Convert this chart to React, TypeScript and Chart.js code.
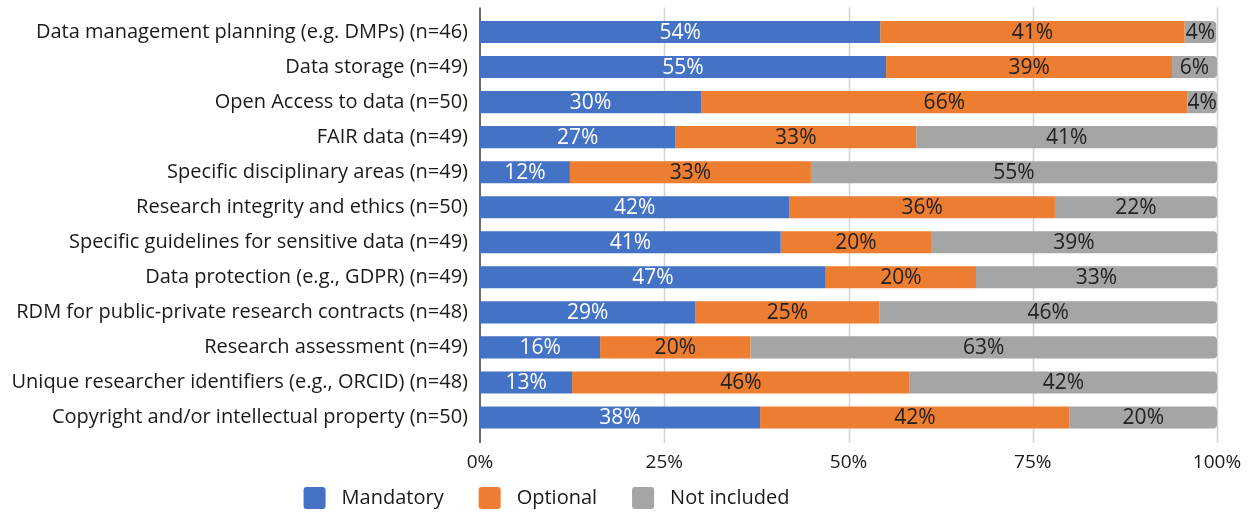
import React, { useEffect, useRef } from 'react';
import { Chart, registerables } from 'chart.js';

Chart.register(...registerables);

const categories = [
  'Data management planning (e.g. DMPs) (n=46)',
  'Data storage (n=49)',
  'Open Access to data (n=50)',
  'FAIR data (n=49)',
  'Specific disciplinary areas (n=49)',
  'Research integrity and ethics (n=50)',
  'Specific guidelines for sensitive data (n=49)',
  'Data protection (e.g., GDPR) (n=49)',
  'RDM for public-private research contracts (n=48)',
  'Research assessment (n=49)',
  'Unique researcher identifiers (e.g., ORCID) (n=48)',
  'Copyright and/or intellectual property (n=50)',
];

const mandatory = [54.3, 55.1, 30, 26.5, 12.2, 42, 40.8, 46.9, 29.2, 16.3, 12.5, 38];
const optional = [41.3, 38.8, 66, 32.7, 32.7, 36, 20.4, 20.4, 25, 20.4, 45.8, 42];
const notIncluded = [4.3, 6.1, 4, 40.8, 55.1, 22, 38.8, 32.7, 45.8, 63.3, 41.7, 20];

const seriesNames = ['Mandatory', 'Optional', 'Not included'];
const seriesColors = ['#4472C4', '#ED7D31', '#A5A5A5'];
const labelColors = ['#ffffff', '#222222', '#222222'];
const xTickValues = [0, 25, 50, 75, 100];
const xTickLabels = ['0%', '25%', '50%', '75%', '100%'];

const TEXT = '#1a1a1a';
const FONT = '"Open Sans", sans-serif';

const gridPlugin = {
  id: 'customGrid',
  beforeDatasetsDraw(chart: any) {
    const { ctx, chartArea, scales } = chart;
    const x = scales.x;
    const top = chartArea.top - 7;
    const bottom = chartArea.bottom + 8;
    ctx.save();
    ctx.strokeStyle = '#d4d4d4';
    ctx.lineWidth = 1.5;
    xTickValues.slice(1).forEach((v) => {
      const px = Math.round(x.getPixelForValue(v)) + 0.5;
      ctx.beginPath();
      ctx.moveTo(px, top);
      ctx.lineTo(px, bottom);
      ctx.stroke();
    });
    ctx.strokeStyle = '#3a3a3a';
    ctx.lineWidth = 1.5;
    const px0 = x.getPixelForValue(0);
    ctx.beginPath();
    ctx.moveTo(px0, top);
    ctx.lineTo(px0, bottom);
    ctx.stroke();
    ctx.restore();
  },
};

const xTickPlugin = {
  id: 'xTickLabels',
  afterDraw(chart: any) {
    const { ctx, chartArea, scales } = chart;
    const x = scales.x;
    ctx.save();
    ctx.font = `19px ${FONT}`;
    ctx.fillStyle = TEXT;
    ctx.textAlign = 'center';
    ctx.textBaseline = 'middle';
    xTickValues.forEach((v, i) => {
      ctx.fillText(xTickLabels[i], x.getPixelForValue(v), chartArea.bottom + 28);
    });
    ctx.restore();
  },
};

const dataLabelPlugin = {
  id: 'dataLabels',
  afterDatasetsDraw(chart: any) {
    const { ctx } = chart;
    ctx.save();
    ctx.font = `21px ${FONT}`;
    ctx.textAlign = 'center';
    ctx.textBaseline = 'middle';
    chart.data.datasets.forEach((ds: any, di: number) => {
      const meta = chart.getDatasetMeta(di);
      meta.data.forEach((el: any, i: number) => {
        const v = ds.data[i];
        const cx = (el.x + el.base) / 2;
        ctx.fillStyle = labelColors[di];
        ctx.fillText(`${Math.round(v)}%`, cx, el.y + 1);
      });
    });
    ctx.restore();
  },
};

const legendPlugin = {
  id: 'customLegend',
  afterDraw(chart: any) {
    const { ctx } = chart;
    const centerX = 546.5;
    const cy = 498;
    const boxW = 22;
    const boxH = 22;
    const gapBoxText = 16;
    const gapItems = 35;
    ctx.save();
    ctx.font = `20px ${FONT}`;
    ctx.textBaseline = 'middle';
    ctx.textAlign = 'left';
    const widths = seriesNames.map((n) => ctx.measureText(n).width);
    const total =
      widths.reduce((a, w) => a + boxW + gapBoxText + w, 0) + gapItems * (seriesNames.length - 1);
    let x = centerX - total / 2;
    seriesNames.forEach((n, i) => {
      ctx.fillStyle = seriesColors[i];
      ctx.beginPath();
      (ctx as any).roundRect(x, cy - boxH / 2, boxW, boxH, 3);
      ctx.fill();
      ctx.fillStyle = TEXT;
      ctx.fillText(n, x + boxW + gapBoxText, cy);
      x += boxW + gapBoxText + widths[i] + gapItems;
    });
    ctx.restore();
  },
};

export default function App() {
  const ref = useRef<HTMLCanvasElement>(null);

  useEffect(() => {
    if (!ref.current) return;
    const datasets = [mandatory, optional, notIncluded].map((d, i) => ({
      label: seriesNames[i],
      data: d,
      backgroundColor: seriesColors[i],
      borderWidth: 0,
      borderRadius: i === 2 ? 4 : 0,
      borderSkipped: 'start' as const,
      categoryPercentage: 0.63,
      barPercentage: 1,
    }));
    const chart = new Chart(ref.current, {
      type: 'bar',
      data: { labels: categories, datasets },
      options: {
        indexAxis: 'y',
        responsive: false,
        animation: false,
        layout: { padding: { top: 14.5, right: 37, bottom: 0, left: 0 } },
        plugins: {
          legend: { display: false },
          tooltip: { enabled: false },
        },
        scales: {
          x: {
            stacked: true,
            min: 0,
            max: 100,
            grid: { display: false },
            border: { display: false },
            ticks: { display: false, stepSize: 25 },
            afterFit: (scale: any) => {
              scale.height = 78;
              scale.paddingLeft = 0;
              scale.paddingRight = 0;
            },
          },
          y: {
            stacked: true,
            grid: { display: false, drawTicks: false },
            border: { display: false },
            afterFit: (scale: any) => {
              scale.width = 480;
              scale.paddingTop = 0;
              scale.paddingBottom = 0;
            },
            ticks: {
              padding: 12,
              color: TEXT,
              font: { family: FONT, size: 20 },
              autoSkip: false,
            },
          },
        },
      },
      plugins: [gridPlugin, dataLabelPlugin, xTickPlugin, legendPlugin],
    });
    return () => chart.destroy();
  }, []);

  return (
    <div style={{ position: 'fixed', left: 0, top: 0, width: 1254, height: 513, background: '#fff' }}>
      <canvas ref={ref} width={1254} height={513} />
    </div>
  );
}
